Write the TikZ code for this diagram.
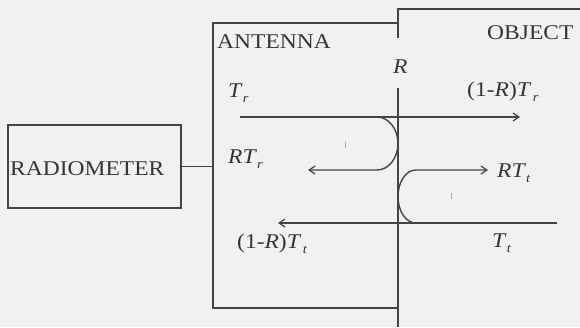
\documentclass[tikz,border=0pt]{standalone}
\usepackage{fontspec}
\setmainfont{Liberation Serif}[FakeStretch=1.12]
\usetikzlibrary{arrows.meta}
\definecolor{ink}{HTML}{444444}
\definecolor{textink}{HTML}{353535}
\definecolor{paper}{HTML}{F1F1F1}
\newcommand\sbs[1]{\kern1.5pt\raisebox{-5pt}{\fontsize{13}{13}\selectfont\itshape #1}}
\begin{document}
\begin{tikzpicture}[x=1pt,y=-1pt,
  frame/.style={draw=ink,line width=1.4pt},
  flow/.style={draw=ink,line width=1.4pt,-{Straight Barb[length=6pt,width=8pt,line width=1.2pt]}},
  lbl/.style={inner sep=0pt,anchor=base west,text=textink,font=\fontsize{21}{24}\selectfont},
  tick/.style={draw=ink!45,line width=0.8pt}]
\fill[paper] (0,0) rectangle (580,327);
\useasboundingbox (0,0) rectangle (580,327);
% radiometer
\node[frame,minimum width=173pt,minimum height=83pt,inner sep=0pt] (radiometer) at (94.5,166.5) {};
\node[lbl] (radtext) at (10,175) {RADIOMETER};
% antenna and object frames
\coordinate (antTR) at (398,23);
\coordinate (antTL) at (213,23);
\coordinate (antBL) at (213,308);
\coordinate (antBR) at (398,308);
\coordinate (objTL) at (398,9);
\coordinate (objTR) at (580,9);
\coordinate (gapTop) at (398,38);
\coordinate (gapBot) at (398,88);
\coordinate (wallEnd) at (398,327);
\draw[frame] (antTR) -- (antTL) -- (antBL) -- (antBR);
\draw[frame] (objTR) -- (objTL) -- (gapTop);
\draw[frame] (gapBot) -- (wallEnd);
\draw[frame] (radiometer.east) -- (radiometer.east -| antTL);
% labels
\node[lbl] (antenna) at (217,48) {ANTENNA};
\node[lbl] (object) at (487,39) {OBJECT};
\node[lbl] (R) at (393,73) {\itshape R};
\node[lbl] (Tr) at (228,97) {\itshape T\sbs{r}};
\node[lbl] (oneRTr) at (467,96) {(1-\textit{R})\textit{T}\sbs{r}};
\node[lbl] (RTr) at (228,163) {\itshape RT\sbs{r}};
\node[lbl] (RTt) at (497,177) {\itshape RT\sbs{t}};
\node[lbl] (oneRTt) at (237,248) {(1-\textit{R})\textit{T}\sbs{t}};
\node[lbl] (Tt) at (492,247) {\itshape T\sbs{t}};
% flows
\coordinate (trStart) at (240,117);
\coordinate (trEnd) at (520,117);
\coordinate (upSplit) at (377,117);
\coordinate (upBack) at (377,170);
\coordinate (upEnd) at (308,170);
\coordinate (ttStart) at (557,223);
\coordinate (ttEnd) at (278,223);
\coordinate (lowSplit) at (416,223);
\coordinate (lowBack) at (416,170);
\coordinate (lowEnd) at (488,170);
\draw[flow] (trStart) -- (trEnd);
\draw[flow] (upSplit) .. controls (388.6,117) and (398,128.9) .. (398,143.5)
  .. controls (398,158.1) and (388.6,170) .. (upBack) -- (upEnd);
\draw[flow] (ttStart) -- (ttEnd);
\draw[flow] (lowSplit) .. controls (406,223) and (398,211.4) .. (398,196.5)
  .. controls (398,181.6) and (406,170) .. (lowBack) -- (lowEnd);
% small ticks
\draw[tick] (345,142) -- (345,148);
\draw[tick] (451,193) -- (451,199);
\end{tikzpicture}
\end{document}
